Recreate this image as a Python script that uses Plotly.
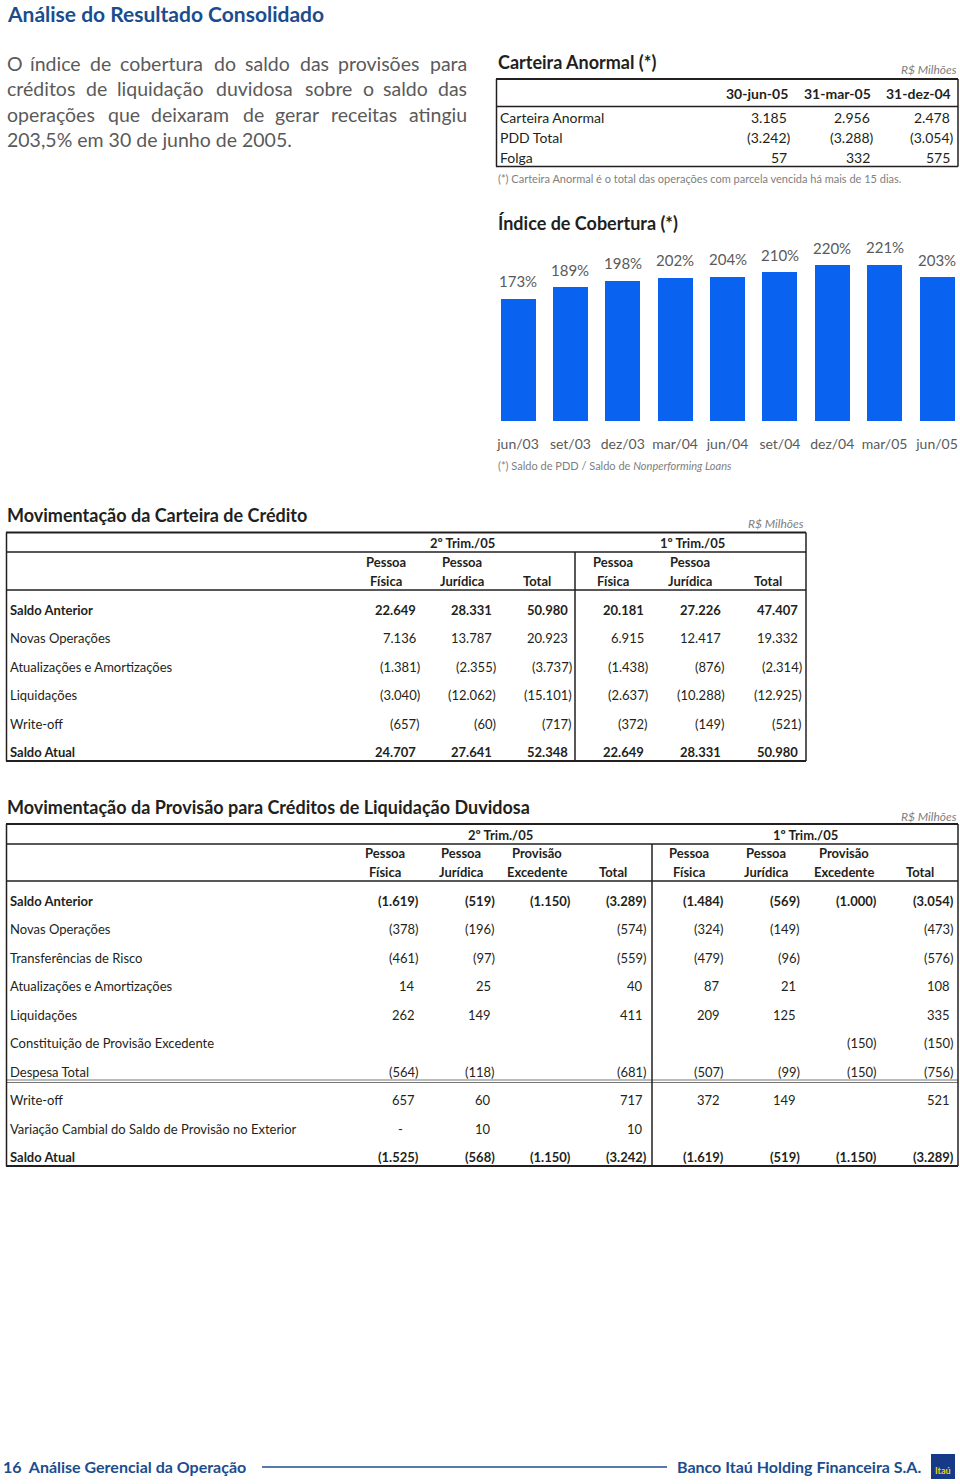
import plotly.graph_objects as go

W, H = 960, 1484

# ---------------- data ----------------
page_title = "Análise do Resultado Consolidado"
paragraph_lines = [
    "O índice de cobertura do saldo das provisões para",
    "créditos de liquidação duvidosa sobre o saldo das",
    "operações que deixaram de gerar receitas atingiu",
    "203,5% em 30 de junho de 2005.",
]

anormal_cols = ["30-jun-05", "31-mar-05", "31-dez-04"]
anormal_rows = ["Carteira Anormal", "PDD Total", "Folga"]
anormal_vals = [
    [3185, 2956, 2478],
    [-3242, -3288, -3054],
    [57, 332, 575],
]

idx_labels = ["jun/03", "set/03", "dez/03", "mar/04", "jun/04", "set/04", "dez/04", "mar/05", "jun/05"]
idx_values = [173, 189, 198, 202, 204, 210, 220, 221, 203]

cred_rows = ["Saldo Anterior", "Novas Operações", "Atualizações e Amortizações",
             "Liquidações", "Write-off", "Saldo Atual"]
cred_q2_pf = [22649, 7136, -1381, -3040, -657, 24707]
cred_q2_pj = [28331, 13787, -2355, -12062, -60, 27641]
cred_q2_tot = [50980, 20923, -3737, -15101, -717, 52348]
cred_q1_pf = [20181, 6915, -1438, -2637, -372, 22649]
cred_q1_pj = [27226, 12417, -876, -10288, -149, 28331]
cred_q1_tot = [47407, 19332, -2314, -12925, -521, 50980]

prov_rows = ["Saldo Anterior", "Novas Operações", "Transferências de Risco",
             "Atualizações e Amortizações", "Liquidações",
             "Constituição de Provisão Excedente", "Despesa Total", "Write-off",
             "Variação Cambial do Saldo de Provisão no Exterior", "Saldo Atual"]
prov_q2_pf = [-1619, -378, -461, 14, 262, None, -564, 657, 0, -1525]
prov_q2_pj = [-519, -196, -97, 25, 149, None, -118, 60, 10, -568]
prov_q2_pe = [-1150, None, None, None, None, None, None, None, None, -1150]
prov_q2_tot = [-3289, -574, -559, 40, 411, None, -681, 717, 10, -3242]
prov_q1_pf = [-1484, -324, -479, 87, 209, None, -507, 372, None, -1619]
prov_q1_pj = [-569, -149, -96, 21, 125, None, -99, 149, None, -519]
prov_q1_pe = [-1000, None, None, None, None, -150, -150, None, None, -1150]
prov_q1_tot = [-3054, -473, -576, 108, 335, -150, -756, 521, None, -3289]

# ---------------- style ----------------
BLUE_T = "#1B4D8E"
DARK = "#231F20"
GREY = "#5A5A5A"
LGREY = "#808080"
BAR = "#0A63F0"
SANS = "Lato, 'Open Sans', sans-serif"
COND = "Lato, sans-serif"
TS = 13  # table text size

annotations = []
shapes = []


def fmt(v):
    if v is None:
        return ""
    if v == 0:
        return "-"
    s = f"{abs(v):,}".replace(",", ".")
    return f"({s})" if v < 0 else s


def txt(x, y, s, size=14, color=DARK, bold=False, anchor="left", family=SANS,
        italic=False, xshift=0):
    annotations.append(dict(
        x=x / W, y=1 - y / H, xref="paper", yref="paper", text=s, showarrow=False,
        xanchor=anchor, yanchor="middle", xshift=xshift, borderpad=0,
        font=dict(size=size, color=color, family=family,
                  weight="bold" if bold else "normal",
                  style="italic" if italic else "normal")))


def line(x0, y0, x1, y1, width=1.5, color=DARK):
    shapes.append(dict(type="line", xref="paper", yref="paper",
                       x0=x0 / W, y0=1 - y0 / H, x1=x1 / W, y1=1 - y1 / H,
                       line=dict(color=color, width=width)))


def num(x_paren, y, v, size, bold, family, shift=4):
    s = fmt(v)
    if not s:
        return
    if s == "-":
        txt(x_paren - 20, y, s, size=size, bold=bold, family=family, anchor="center")
        return
    xs = 0 if s.endswith(")") else -shift
    txt(x_paren, y, s, size=size, bold=bold, family=family, anchor="right", xshift=xs)


# approximate Lato regular advance widths (em) used to justify the paragraph
CW = {c: 0.56 for c in "bdhnopquúõ"}
CW.update({"a": .51, "á": .51, "ã": .51, "c": .46, "ç": .46, "e": .52, "é": .52,
           "f": .32, "g": .50, "i": .24, "í": .24, "j": .24, "k": .50, "l": .24,
           "m": .83, "r": .36, "s": .42, "t": .34, "v": .49, "w": .74, "x": .48,
           "y": .49, "z": .45, "O": .74, ",": .22, ".": .22, "%": .75})


def word_w(wd, size):
    return sum(CW.get(c, 0.58) for c in wd) * size * 1.04


def justified(lines, x0, x1, y0, dy, size, color):
    for i, ln in enumerate(lines):
        y = y0 + i * dy
        words = ln.split(" ")
        if i == len(lines) - 1:
            txt(x0, y, ln, size=size, color=color)
            continue
        widths = [word_w(w, size) for w in words]
        gap = (x1 - x0 - sum(widths)) / (len(words) - 1)
        x = x0
        for k, (wd, ww) in enumerate(zip(words, widths)):
            if k == len(words) - 1:
                txt(x1, y, wd, size=size, color=color, anchor="right")
            else:
                txt(x, y, wd, size=size, color=color)
            x += ww + gap


# ---------------- header ----------------
txt(6, 13.5, page_title, size=21, color=BLUE_T, bold=True)
justified(paragraph_lines, 6, 468, 63, 25.5, 19.5, GREY)

# ---------------- Carteira Anormal ----------------
txt(497, 62, "Carteira Anormal (*)", size=18, bold=True)
txt(958, 70, "R$ Milhões", size=12, color=LGREY, italic=True, anchor="right")
line(496, 79, 958, 79, 2)
line(496, 106.5, 958, 106.5, 1.5)
line(496, 166.5, 958, 166.5, 1.5)
line(496.5, 79, 496.5, 166.5, 1.5)
line(958, 79, 958, 166.5, 1.5)
a_x = [792, 875, 955]
for j, c in enumerate(anormal_cols):
    txt(a_x[j] - 3, 94, c, size=14, bold=True, anchor="right")
for i, r in enumerate(anormal_rows):
    y = 117.5 + i * 20
    txt(499, y, r, size=14)
    for j in range(3):
        num(a_x[j], y, anormal_vals[i][j], 14, False, SANS, shift=4)
txt(497, 179, "(*) Carteira Anormal é o total das operações com parcela vencida há mais de 15 dias.",
    size=11, color=LGREY)

# ---------------- Índice de Cobertura chart ----------------
txt(497, 223, "Índice de Cobertura (*)", size=18, bold=True)
txt(497, 466, "(*) Saldo de PDD / Saldo de <i>Nonperforming Loans</i>", size=11, color=LGREY)

bar_bottom = 421.7
px_per_unit = 0.709
y_max = 250
bar_top_px = bar_bottom - y_max * px_per_unit
x_first, x_last = 518, 937
step = (x_last - x_first) / 8
x_dom0, x_dom1 = 492, 960

fig = go.Figure()
fig.add_trace(go.Bar(
    x=idx_labels, y=idx_values, marker=dict(color=BAR, line=dict(width=0)),
    width=35 / step, hoverinfo="skip", showlegend=False))
for lab, v in zip(idx_labels, idx_values):
    annotations.append(dict(x=lab, y=v, xref="x", yref="y", text=f"{v}%", showarrow=False,
                            yanchor="bottom", yshift=7,
                            font=dict(size=15, color=GREY, family=SANS)))

# ---------------- Movimentação da Carteira de Crédito ----------------
txt(6, 515, "Movimentação da Carteira de Crédito", size=18, bold=True)
txt(805, 523, "R$ Milhões", size=12, color=LGREY, italic=True, anchor="right")
line(6, 532.5, 806, 532.5, 2)
line(6, 552, 806, 552, 1.5)
line(6, 590, 806, 590, 1.5)
line(6, 761, 806, 761, 2)
line(6.5, 532.5, 6.5, 761, 1.5)
line(806, 532.5, 806, 761, 1.5)
line(575, 552, 575, 761, 1.5)
txt(462, 543, "2º Trim./05", size=TS, bold=True, anchor="center", family=COND)
txt(692, 543, "1º Trim./05", size=TS, bold=True, anchor="center", family=COND)
c_hdr_x = [386, 462, 537, 613, 690, 768]
c_hdr = [("Pessoa", "Física"), ("Pessoa", "Jurídica"), ("", "Total")] * 2
for x, (a, b) in zip(c_hdr_x, c_hdr):
    if a:
        txt(x, 562, a, size=TS, bold=True, anchor="center", family=COND)
    txt(x, 581, b, size=TS, bold=True, anchor="center", family=COND)
c_val_x = [421, 497, 573, 649, 726, 803]
cred_cols = [cred_q2_pf, cred_q2_pj, cred_q2_tot, cred_q1_pf, cred_q1_pj, cred_q1_tot]
for i, r in enumerate(cred_rows):
    y = 609.5 + i * 28.55
    bold = i in (0, len(cred_rows) - 1)
    txt(9, y, r, size=TS, bold=bold, family=COND)
    for j, col in enumerate(cred_cols):
        num(c_val_x[j], y, col[i], TS, bold, COND)

# ---------------- Movimentação da Provisão ----------------
txt(6, 807, "Movimentação da Provisão para Créditos de Liquidação Duvidosa", size=18, bold=True)
txt(958, 816, "R$ Milhões", size=12, color=LGREY, italic=True, anchor="right")
line(6, 824, 958, 824, 2)
line(6, 844, 958, 844, 1.5)
line(6, 881, 958, 881, 1.5)
line(6, 1080, 958, 1080, 1, "#777777")
line(6, 1082.5, 958, 1082.5, 1, "#777777")
line(6, 1166, 958, 1166, 2)
line(6.5, 824, 6.5, 1166, 1.5)
line(958, 824, 958, 1166, 1.5)
line(652, 844, 652, 1166, 1.5)
txt(500, 835, "2º Trim./05", size=TS, bold=True, anchor="center", family=COND)
txt(805, 835, "1º Trim./05", size=TS, bold=True, anchor="center", family=COND)
p_hdr_x = [385, 461, 537, 613, 689, 766, 844, 920]
p_hdr = [("Pessoa", "Física"), ("Pessoa", "Jurídica"), ("Provisão", "Excedente"), ("", "Total")] * 2
for x, (a, b) in zip(p_hdr_x, p_hdr):
    if a:
        txt(x, 853, a, size=TS, bold=True, anchor="center", family=COND)
    txt(x, 872, b, size=TS, bold=True, anchor="center", family=COND)
p_val_x = [420, 496, 572, 648, 725, 801, 878, 955]
prov_cols = [prov_q2_pf, prov_q2_pj, prov_q2_pe, prov_q2_tot,
             prov_q1_pf, prov_q1_pj, prov_q1_pe, prov_q1_tot]
for i, r in enumerate(prov_rows):
    y = 900.5 + i * 28.5
    bold = i in (0, len(prov_rows) - 1)
    txt(9, y, r, size=TS, bold=bold, family=COND)
    for j, col in enumerate(prov_cols):
        num(p_val_x[j], y, col[i], TS, bold, COND)

# ---------------- footer ----------------
txt(2, 1466, "16&nbsp;&nbsp;Análise Gerencial da Operação", size=16, color=BLUE_T, bold=True, family=COND)
line(262, 1467, 667, 1467, 1.5, BLUE_T)
txt(922, 1466, "Banco Itaú Holding Financeira S.A.", size=16, color=BLUE_T, bold=True,
    family=COND, anchor="right")
shapes.append(dict(type="rect", xref="paper", yref="paper",
                   x0=931 / W, x1=955 / W, y0=1 - 1479 / H, y1=1 - 1454 / H,
                   fillcolor="#163A87", line=dict(width=0)))
txt(943, 1470, "Itaú", size=9, color="#F5D20A", bold=True, anchor="center", family=COND)

fig.update_layout(
    width=W, height=H, autosize=False,
    margin=dict(l=0, r=0, t=0, b=0),
    paper_bgcolor="white", plot_bgcolor="white",
    xaxis=dict(domain=[x_dom0 / W, x_dom1 / W],
               range=[-(x_first - x_dom0) / step, 8 + (x_dom1 - x_last) / step],
               showgrid=False, zeroline=False, showline=False, ticks="",
               ticklabelstandoff=12,
               tickfont=dict(size=14, color=GREY, family=SANS), fixedrange=True),
    yaxis=dict(domain=[1 - bar_bottom / H, 1 - bar_top_px / H], range=[0, y_max],
               visible=False, fixedrange=True),
    annotations=annotations, shapes=shapes,
    bargap=0,
)

fig.write_html("out.html",
               config={"displayModeBar": False},
               post_script="document.body.style.margin='0';document.body.style.overflow='hidden';")
